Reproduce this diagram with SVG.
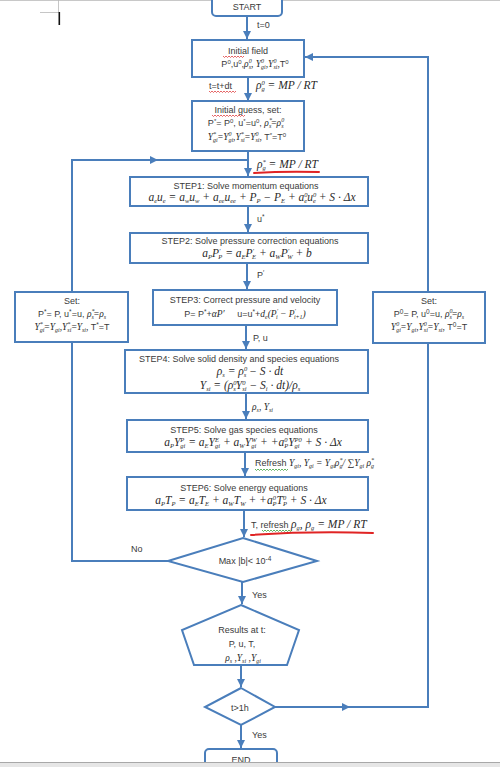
<svg xmlns="http://www.w3.org/2000/svg" width="500" height="767" viewBox="0 0 500 767">
<style>
.bx{fill:#fff;stroke:#4a7ebb;stroke-width:2}
.ln{fill:none;stroke:#4a7ebb;stroke-width:2}
.t{font-family:"Liberation Sans",Arial,sans-serif;font-size:9px;fill:#3a3a3a}
.c{text-anchor:middle}
.m{font-family:"Liberation Serif","Times New Roman",serif;font-style:italic;font-size:11.5px;fill:#2a2a2a}
.mm{font-family:"Liberation Serif","Times New Roman",serif;font-style:italic;font-size:9.5px;fill:#2a2a2a}
.s{font-size:6.5px}
.s2{font-size:6px}
.red{fill:none;stroke:#e02424;stroke-width:2;stroke-linecap:round}
.sq{fill:none;stroke:#e04040;stroke-width:0.8}
.sg{fill:none;stroke:#3aa03a;stroke-width:0.8}
</style>
<defs>
<marker id="ah" markerUnits="userSpaceOnUse" markerWidth="9" markerHeight="9" refX="8" refY="4" orient="auto">
<path d="M0,0 L8,4 L0,8 z" fill="#4a7ebb"/>
</marker>
</defs>
<rect width="500" height="767" fill="#fff"/>
<!-- page artifacts -->
<line x1="0" y1="0.5" x2="500" y2="0.5" stroke="#c8c8c8" stroke-width="1"/>
<path d="M40,12.5 H58.5 V0" fill="none" stroke="#b8b8b8" stroke-width="0.8"/>
<rect x="58.5" y="12" width="1.6" height="13" fill="#111"/>

<g id="connectors">
<path class="ln" d="M247,16 V39" marker-end="url(#ah)"/>
<path class="ln" d="M248,77 V101" marker-end="url(#ah)"/>
<path class="ln" d="M248,151 V176" marker-end="url(#ah)"/>
<path class="ln" d="M248,206 V232" marker-end="url(#ah)"/>
<path class="ln" d="M247,263 V289" marker-end="url(#ah)"/>
<path class="ln" d="M246,325 V349" marker-end="url(#ah)"/>
<path class="ln" d="M246,393 V419" marker-end="url(#ah)"/>
<path class="ln" d="M245,452 V476" marker-end="url(#ah)"/>
<path class="ln" d="M244,510 V537" marker-end="url(#ah)"/>
<path class="ln" d="M242,582 V604" marker-end="url(#ah)"/>
<path class="ln" d="M241,665 V687" marker-end="url(#ah)"/>
<path class="ln" d="M241,725 V748" marker-end="url(#ah)"/>
<path class="ln" d="M168,561 H72 V342"/>
<path class="ln" d="M72,292 V160 H158" marker-end="url(#ah)"/>
<path class="ln" d="M157,160 H248"/>
<path class="ln" d="M275,707 H350" marker-end="url(#ah)"/>
<path class="ln" d="M349,707 H428 V343"/>
<path class="ln" d="M428,292 V57 H305" marker-end="url(#ah)"/>
<!-- connector labels -->
<text class="t" x="257" y="28">t=0</text>
<text class="t" x="209" y="89">t=t+dt</text>
<path class="sq" d="M209,91 l1.5,1.5 1.5,-1.5 1.5,1.5 1.5,-1.5 1.5,1.5 1.5,-1.5 1.5,1.5 1.5,-1.5 1.5,1.5 1.5,-1.5 1.5,1.5 1.5,-1.5 1.5,1.5 1.5,-1.5 1.5,1.5 1.5,-1.5 1.5,1.5 1.5,-1.5"/>
<text class="m" x="256" y="89">ρ<tspan class="s" dy="-4.5">0</tspan><tspan class="s" dx="-3.3" dy="6.5">g</tspan><tspan dy="-2"> = MP / RT</tspan></text>
<text class="m" x="257" y="168">ρ<tspan class="s" dy="-4.5">*</tspan><tspan class="s" dx="-3.3" dy="6.5">g</tspan><tspan dy="-2"> = MP / RT</tspan></text>
<path class="red" d="M254,173 Q285,171 319,172"/>
<text class="t" x="257" y="222">u<tspan class="s" dy="-3">*</tspan></text>
<text class="t" x="257" y="278">P<tspan class="s" dy="-3">′</tspan></text>
<text class="t" x="253" y="341">P, u</text>
<text class="mm" x="252" y="410">ρ<tspan class="s2" dy="2">s</tspan><tspan dy="-2" font-style="normal">, </tspan>Y<tspan class="s2" dy="2">si</tspan></text>
<text class="t" x="255" y="466">Refresh <tspan class="mm">Y<tspan class="s2" dy="2">gi</tspan><tspan dy="-2">, Y</tspan><tspan class="s2" dy="2">gi</tspan><tspan dy="-2"> = Y</tspan><tspan class="s2" dy="2">gi</tspan><tspan dy="-2">ρ</tspan><tspan class="s2" dy="-4">*</tspan><tspan class="s2" dx="-3" dy="6">g</tspan><tspan dy="-2">/ ∑Y</tspan><tspan class="s2" dy="2">gi</tspan><tspan dy="-2"> ρ</tspan><tspan class="s2" dy="-4">*</tspan><tspan class="s2" dx="-3" dy="6">g</tspan></tspan></text>
<path class="sg" d="M255,469 l1.5,1.5 1.5,-1.5 1.5,1.5 1.5,-1.5 1.5,1.5 1.5,-1.5 1.5,1.5 1.5,-1.5 1.5,1.5 1.5,-1.5 1.5,1.5 1.5,-1.5 1.5,1.5 1.5,-1.5 1.5,1.5 1.5,-1.5 1.5,1.5 1.5,-1.5 1.5,1.5 1.5,-1.5 1.5,1.5 1.5,-1.5"/>
<text class="t" x="251" y="528">T, refresh <tspan class="m">ρ<tspan class="s" dy="2">g</tspan><tspan dy="-2">, ρ</tspan><tspan class="s" dy="2">g</tspan><tspan dy="-2"> = MP / RT</tspan></tspan></text>
<path class="sg" d="M262,530 l1.5,1.5 1.5,-1.5 1.5,1.5 1.5,-1.5 1.5,1.5 1.5,-1.5 1.5,1.5 1.5,-1.5 1.5,1.5 1.5,-1.5 1.5,1.5 1.5,-1.5 1.5,1.5 1.5,-1.5 1.5,1.5 1.5,-1.5 1.5,1.5 1.5,-1.5 1.5,1.5 1.5,-1.5"/>
<path class="red" d="M251,535 Q310,531 373,533"/>
<text class="t" x="131" y="552">No</text>
<text class="t" x="252" y="598">Yes</text>
<text class="t" x="252" y="738">Yes</text>
</g>

<g id="start">
<rect class="bx" x="212" y="-10" width="70" height="26" rx="4"/>
<text class="t c" x="247" y="10">START</text>
</g>

<g id="init-field">
<rect class="bx" x="192" y="40" width="112" height="37"/>
<text class="t c" x="248" y="54" font-size="10">Initial field</text>
<path class="sq" d="M223,56 l1.5,1.5 1.5,-1.5 1.5,1.5 1.5,-1.5 1.5,1.5 1.5,-1.5 1.5,1.5 1.5,-1.5 1.5,1.5 1.5,-1.5 1.5,1.5 1.5,-1.5 1.5,1.5 1.5,-1.5"/>
<text class="t c" x="255" y="67" font-size="8.5">P<tspan class="s2" dy="-3">0</tspan><tspan dy="3">,u</tspan><tspan class="s2" dy="-3">0</tspan><tspan dy="3">,</tspan><tspan class="mm">ρ<tspan class="s2" dy="-4">0</tspan><tspan class="s2" dx="-3" dy="6">s</tspan><tspan dy="-2" font-style="normal">, </tspan>Y<tspan class="s2" dy="-4">0</tspan><tspan class="s2" dx="-3" dy="6">gi</tspan><tspan dy="-2" font-style="normal">,</tspan>Y<tspan class="s2" dy="-4">0</tspan><tspan class="s2" dx="-3" dy="6">si</tspan><tspan dy="-2" font-style="normal">,</tspan></tspan>T<tspan class="s2" dy="-3">0</tspan></text>
</g>

<g id="init-guess">
<rect class="bx" x="192" y="101" width="112" height="50"/>
<text class="t c" x="248" y="113">Initial guess, set:</text>
<path class="sq" d="M212,115 l1.5,1.5 1.5,-1.5 1.5,1.5 1.5,-1.5 1.5,1.5 1.5,-1.5 1.5,1.5 1.5,-1.5 1.5,1.5 1.5,-1.5 1.5,1.5 1.5,-1.5 1.5,1.5 1.5,-1.5 1.5,1.5 1.5,-1.5 1.5,1.5 1.5,-1.5 1.5,1.5 1.5,-1.5 1.5,1.5 1.5,-1.5"/>
<text class="t c" x="246" y="126" font-size="8.5">P<tspan class="s2" dy="-3">*</tspan><tspan dy="3">= P</tspan><tspan class="s2" dy="-3">0</tspan><tspan dy="3">, u</tspan><tspan class="s2" dy="-3">*</tspan><tspan dy="3">=u</tspan><tspan class="s2" dy="-3">0</tspan><tspan dy="3">, </tspan><tspan class="mm">ρ<tspan class="s2" dy="-4">*</tspan><tspan class="s2" dx="-3" dy="6">s</tspan><tspan dy="-2" font-style="normal">=</tspan>ρ<tspan class="s2" dy="-4">0</tspan><tspan class="s2" dx="-3" dy="6">s</tspan></tspan></text>
<text class="t c" x="247" y="140" font-size="8.5"><tspan class="mm">Y<tspan class="s2" dy="-4">*</tspan><tspan class="s2" dx="-3" dy="6">gi</tspan><tspan dy="-2" font-style="normal">=</tspan>Y<tspan class="s2" dy="-4">0</tspan><tspan class="s2" dx="-3" dy="6">gi</tspan><tspan dy="-2" font-style="normal">,</tspan>Y<tspan class="s2" dy="-4">*</tspan><tspan class="s2" dx="-3" dy="6">si</tspan><tspan dy="-2" font-style="normal">=</tspan>Y<tspan class="s2" dy="-4">0</tspan><tspan class="s2" dx="-3" dy="6">si</tspan><tspan dy="-2" font-style="normal">, </tspan></tspan>T<tspan class="s2" dy="-3">*</tspan><tspan dy="3">=T</tspan><tspan class="s2" dy="-3">0</tspan></text>
</g>

<g id="step1">
<rect class="bx" x="130" y="177" width="238" height="29"/>
<text class="t c" x="246" y="189">STEP1: Solve momentum equations</text>
<text class="m c" x="252" y="201">a<tspan class="s" dy="2">e</tspan><tspan dy="-2">u</tspan><tspan class="s" dy="2">e</tspan><tspan dy="-2"> = a</tspan><tspan class="s" dy="2">w</tspan><tspan dy="-2">u</tspan><tspan class="s" dy="2">w</tspan><tspan dy="-2"> + a</tspan><tspan class="s" dy="2">ee</tspan><tspan dy="-2">u</tspan><tspan class="s" dy="2">ee</tspan><tspan dy="-2"> + P</tspan><tspan class="s" dy="2">P</tspan><tspan dy="-2"> − P</tspan><tspan class="s" dy="2">E</tspan><tspan dy="-2"> + a</tspan><tspan class="s" dy="-4.5">0</tspan><tspan class="s" dx="-3.3" dy="6.5">e</tspan><tspan dy="-2">u</tspan><tspan class="s" dy="-4.5">0</tspan><tspan class="s" dx="-3.3" dy="6.5">e</tspan><tspan dy="-2"> + S · Δx</tspan></text>
</g>

<g id="step2">
<rect class="bx" x="130" y="233" width="238" height="30"/>
<text class="t c" x="250" y="244">STEP2: Solve pressure correction equations</text>
<text class="m c" x="257" y="257">a<tspan class="s" dy="2">P</tspan><tspan dy="-2">P</tspan><tspan class="s" dy="-4.5">′</tspan><tspan class="s" dx="-2" dy="6.5">P</tspan><tspan dy="-2"> = a</tspan><tspan class="s" dy="2">E</tspan><tspan dy="-2">P</tspan><tspan class="s" dy="-4.5">′</tspan><tspan class="s" dx="-2" dy="6.5">E</tspan><tspan dy="-2"> + a</tspan><tspan class="s" dy="2">W</tspan><tspan dy="-2">P</tspan><tspan class="s" dy="-4.5">′</tspan><tspan class="s" dx="-2" dy="6.5">W</tspan><tspan dy="-2"> + b</tspan></text>
</g>

<g id="step3">
<rect class="bx" x="153" y="290" width="184" height="35"/>
<text class="t c" x="245" y="303">STEP3: Correct pressure and velocity</text>
<text class="t c" x="245" y="317">P= P<tspan class="s" dy="-3">*</tspan><tspan dy="3">+</tspan><tspan class="mm">αP′</tspan><tspan xml:space="preserve">     u=u</tspan><tspan class="s" dy="-3">*</tspan><tspan dy="3">+</tspan><tspan class="mm">d<tspan class="s2" dy="2">e</tspan><tspan dy="-2">(P</tspan><tspan class="s2" dy="-4">′</tspan><tspan class="s2" dx="-2" dy="6">i</tspan><tspan dy="-2"> − P</tspan><tspan class="s2" dy="-4">′</tspan><tspan class="s2" dx="-2" dy="6">i+1</tspan><tspan dy="-2">)</tspan></tspan></text>
</g>

<g id="step4">
<rect class="bx" x="125" y="350" width="243" height="43"/>
<text class="t c" x="239" y="362">STEP4: Solve solid density and species equations</text>
<text class="m c" x="250" y="375">ρ<tspan class="s" dy="2">s</tspan><tspan dy="-2"> = ρ</tspan><tspan class="s" dy="-4.5">0</tspan><tspan class="s" dx="-3.3" dy="6.5">s</tspan><tspan dy="-2"> − S · dt</tspan></text>
<text class="m c" x="250" y="389">Y<tspan class="s" dy="2">si</tspan><tspan dy="-2"> = (ρ</tspan><tspan class="s" dy="-4.5">0</tspan><tspan class="s" dx="-3.3" dy="6.5">s</tspan><tspan dy="-2">Y</tspan><tspan class="s" dy="-4.5">0</tspan><tspan class="s" dx="-3.3" dy="6.5">si</tspan><tspan dy="-2"> − S</tspan><tspan class="s" dy="2">i</tspan><tspan dy="-2"> · dt)/ρ</tspan><tspan class="s" dy="2">s</tspan></text>
</g>

<g id="step5">
<rect class="bx" x="127" y="420" width="241" height="32"/>
<text class="t c" x="244" y="433">STEP5: Solve gas species equations</text>
<text class="m c" x="253" y="446">a<tspan class="s" dy="2">P</tspan><tspan dy="-2">Y</tspan><tspan class="s" dy="-4.5">P</tspan><tspan class="s" dx="-4" dy="6.5">gi</tspan><tspan dy="-2"> = a</tspan><tspan class="s" dy="2">E</tspan><tspan dy="-2">Y</tspan><tspan class="s" dy="-4.5">E</tspan><tspan class="s" dx="-4" dy="6.5">gi</tspan><tspan dy="-2"> + a</tspan><tspan class="s" dy="2">W</tspan><tspan dy="-2">Y</tspan><tspan class="s" dy="-4.5">W</tspan><tspan class="s" dx="-5.4" dy="6.5">gi</tspan><tspan dx="1" dy="-2"> + +a</tspan><tspan class="s" dy="-4.5">0</tspan><tspan class="s" dx="-3.3" dy="6.5">P</tspan><tspan dy="-2">Y</tspan><tspan class="s" dy="-4.5">P0</tspan><tspan class="s" dx="-7.3" dy="6.5">gi</tspan><tspan dx="2.5" dy="-2"> + S · Δx</tspan></text>
</g>

<g id="step6">
<rect class="bx" x="127" y="477" width="241" height="33"/>
<text class="t c" x="244" y="491">STEP6: Solve energy equations</text>
<text class="m c" x="241" y="504">a<tspan class="s" dy="2">P</tspan><tspan dy="-2">T</tspan><tspan class="s" dy="2">P</tspan><tspan dy="-2"> = a</tspan><tspan class="s" dy="2">E</tspan><tspan dy="-2">T</tspan><tspan class="s" dy="2">E</tspan><tspan dy="-2"> + a</tspan><tspan class="s" dy="2">W</tspan><tspan dy="-2">T</tspan><tspan class="s" dy="2">W</tspan><tspan dy="-2"> + +a</tspan><tspan class="s" dy="-4.5">0</tspan><tspan class="s" dx="-3.3" dy="6.5">P</tspan><tspan dy="-2">T</tspan><tspan class="s" dy="-4.5">0</tspan><tspan class="s" dx="-3.3" dy="6.5">P</tspan><tspan dy="-2"> + S · Δx</tspan></text>
</g>

<g id="set-left">
<rect class="bx" x="15" y="292" width="113" height="50"/>
<text class="t c" x="72" y="304">Set:</text>
<text class="t c" x="72" y="317">P<tspan class="s" dy="-3">*</tspan><tspan dy="3">= P, u</tspan><tspan class="s" dy="-3">*</tspan><tspan dy="3">=u, </tspan><tspan class="mm">ρ<tspan class="s2" dy="-4">*</tspan><tspan class="s2" dx="-3" dy="6">s</tspan><tspan dy="-2" font-style="normal">=</tspan>ρ<tspan class="s2" dy="2">s</tspan></tspan></text>
<text class="t c" x="72" y="330"><tspan class="mm">Y<tspan class="s2" dy="-4">*</tspan><tspan class="s2" dx="-3" dy="6">gi</tspan><tspan dy="-2" font-style="normal">=</tspan>Y<tspan class="s2" dy="2">gi</tspan><tspan dy="-2" font-style="normal">,</tspan>Y<tspan class="s2" dy="-4">*</tspan><tspan class="s2" dx="-3" dy="6">si</tspan><tspan dy="-2" font-style="normal">=</tspan>Y<tspan class="s2" dy="2">si</tspan><tspan dy="-2" font-style="normal">, </tspan></tspan>T<tspan class="s" dy="-3">*</tspan><tspan dy="3">=T</tspan></text>
</g>

<g id="set-right">
<rect class="bx" x="373" y="292" width="112" height="51"/>
<text class="t c" x="429" y="304">Set:</text>
<text class="t c" x="429" y="317">P<tspan class="s" dy="-3">0</tspan><tspan dy="3">= P, u</tspan><tspan class="s" dy="-3">0</tspan><tspan dy="3">=u, </tspan><tspan class="mm">ρ<tspan class="s2" dy="-4">0</tspan><tspan class="s2" dx="-3" dy="6">s</tspan><tspan dy="-2" font-style="normal">=</tspan>ρ<tspan class="s2" dy="2">s</tspan></tspan></text>
<text class="t c" x="429" y="330"><tspan class="mm">Y<tspan class="s2" dy="-4">0</tspan><tspan class="s2" dx="-3" dy="6">gi</tspan><tspan dy="-2" font-style="normal">=</tspan>Y<tspan class="s2" dy="2">gi</tspan><tspan dy="-2" font-style="normal">,</tspan>Y<tspan class="s2" dy="-4">0</tspan><tspan class="s2" dx="-3" dy="6">si</tspan><tspan dy="-2" font-style="normal">=</tspan>Y<tspan class="s2" dy="2">si</tspan><tspan dy="-2" font-style="normal">, </tspan></tspan>T<tspan class="s" dy="-3">0</tspan><tspan dy="3">=T</tspan></text>
</g>

<g id="check-b">
<polygon class="bx" points="243,538 317,561 243,582 168,561"/>
<text class="t c" x="245" y="564">Max |b|&lt; 10<tspan class="s" dy="-3">-4</tspan></text>
</g>

<g id="results">
<polygon class="bx" points="241,605 299,630 287,665 194,665 182,630"/>
<text class="t c" x="242" y="633">Results at t:</text>
<text class="t c" x="242" y="647">P, u, T,</text>
<text class="mm c" x="243" y="661">ρ<tspan class="s2" dy="2">s</tspan><tspan dy="-2" font-style="normal"> ,</tspan>Y<tspan class="s2" dy="2">si</tspan><tspan dy="-2" font-style="normal"> ,</tspan>Y<tspan class="s2" dy="2">gi</tspan></text>
</g>

<g id="check-t">
<polygon class="bx" points="241,688 275,707 241,725 205,707"/>
<text class="t c" x="240" y="711">t&gt;1h</text>
</g>

<g id="end">
<rect class="bx" x="205" y="749" width="72" height="30" rx="4"/>
<text class="t c" x="241" y="763">END</text>
</g>
<rect x="0" y="762.5" width="500" height="4.5" fill="#e6e6e6"/>
<line x1="0" y1="762.5" x2="500" y2="762.5" stroke="#a8a8a8" stroke-width="1"/>
</svg>
